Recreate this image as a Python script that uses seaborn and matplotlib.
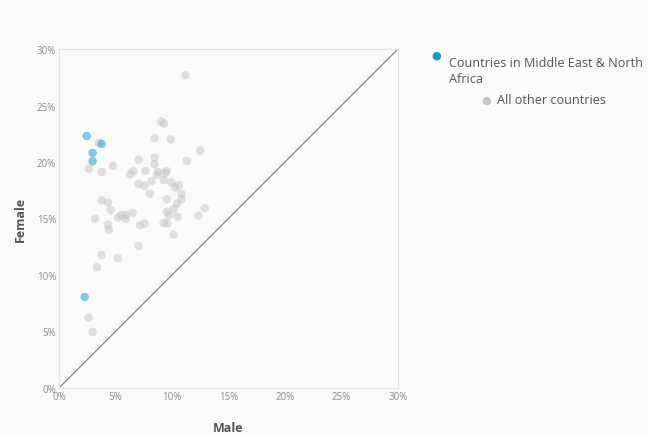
import numpy as np
import pandas as pd
import seaborn as sns
import matplotlib.pyplot as plt

# --- data (share of population, %) ---
mena_male = [2.45, 3.78, 2.98, 2.98, 2.27]
mena_female = [22.3, 21.6, 20.8, 20.06, 8.05]

other_male = [11.2, 9.03, 9.3, 8.47, 9.88, 3.54, 12.5, 7.05, 8.47, 8.47,
              11.3, 2.65, 4.78, 3.78, 6.28, 6.58, 7.67, 8.76, 9.53, 9.4,
              8.67, 8.2, 9.27, 7.05, 7.58, 9.94, 10.6, 10.3, 8.05, 10.85,
              10.85, 9.56, 10.44, 10.15, 9.56, 12.9, 12.36, 10.5, 9.73, 9.27,
              9.6, 10.15, 3.78, 4.34, 4.57, 3.19, 5.22, 5.49, 5.93, 5.93,
              6.52, 4.34, 4.42, 7.17, 7.58, 7.05, 3.78, 5.22, 3.36, 2.62,
              2.98]
other_female = [27.7, 23.6, 23.4, 22.1, 22.0, 21.7, 21.0, 20.2, 20.4, 19.8,
                20.1, 19.4, 19.65, 19.1, 18.9, 19.2, 19.2, 19.1, 19.2, 19.0,
                18.85, 18.3, 18.4, 18.05, 17.9, 18.2, 17.96, 17.75, 17.2, 17.2,
                16.7, 16.7, 16.3, 15.84, 15.6, 15.9, 15.25, 15.16, 15.25, 14.6,
                14.55, 13.57, 16.6, 16.4, 15.75, 15.0, 15.07, 15.3, 15.3, 14.96,
                15.5, 14.45, 14.0, 14.4, 14.55, 12.57, 11.77, 11.5, 10.7, 6.2,
                4.96]

groups = ["All other countries", "Countries in Middle East & North Africa"]
colors = {"All other countries": "#c4c4c4",
          "Countries in Middle East & North Africa": "#0a9ad6"}

df = pd.DataFrame({
    "Male": other_male + mena_male,
    "Female": other_female + mena_female,
    "group": [groups[0]] * len(other_male) + [groups[1]] * len(mena_male),
})

sns.set_style("white")
plt.rcParams['font.family'] = ['Open Sans', 'DejaVu Sans']

bg = "#fafafa"
fig = plt.figure(figsize=(6.48, 4.35), dpi=100, facecolor=bg)
ax = fig.add_axes([0.091, 0.106, 0.523, 0.779], facecolor=bg)

# diagonal reference line
ax.plot([0, 30], [0, 30], color="#777777", lw=0.8, zorder=1)

sns.scatterplot(data=df, x="Male", y="Female", hue="group", hue_order=groups,
                palette=colors, s=38, alpha=0.5, edgecolor="none",
                legend=False, ax=ax, zorder=2)

ax.set_xlim(0, 30)
ax.set_ylim(0, 30)
ticks = [0, 5, 10, 15, 20, 25, 30]
ax.set_xticks(ticks)
ax.set_yticks(ticks)
ax.set_xticklabels([f"{t}%" for t in ticks])
ax.set_yticklabels([f"{t}%" for t in ticks])
ax.tick_params(axis="both", length=0, labelsize=7, colors="#8c8c8c", pad=2)
for sp in ax.spines.values():
    sp.set_color("#e2e2e2")
    sp.set_linewidth(0.8)

ax.set_xlabel("Male", fontsize=9, fontweight="bold", color="#555555", labelpad=14)
ax.set_ylabel("Female", fontsize=9, fontweight="bold", color="#555555", labelpad=7)

# legend (custom layout)
fig.text(0.673, 0.871, "\u25cf", color=colors[groups[1]], fontsize=8,
         ha="center", va="center", family="DejaVu Sans")
fig.text(0.693, 0.868, "Countries in Middle East & North\nAfrica", fontsize=9.1,
         color="#555555", ha="left", va="top", linespacing=1.25)
fig.text(0.750, 0.768, "\u25cf", color=colors[groups[0]], fontsize=8,
         ha="center", va="center", family="DejaVu Sans")
fig.text(0.767, 0.768, "All other countries", fontsize=9.1,
         color="#555555", ha="left", va="center")

fig.savefig("out.png", dpi=100, facecolor=bg)
